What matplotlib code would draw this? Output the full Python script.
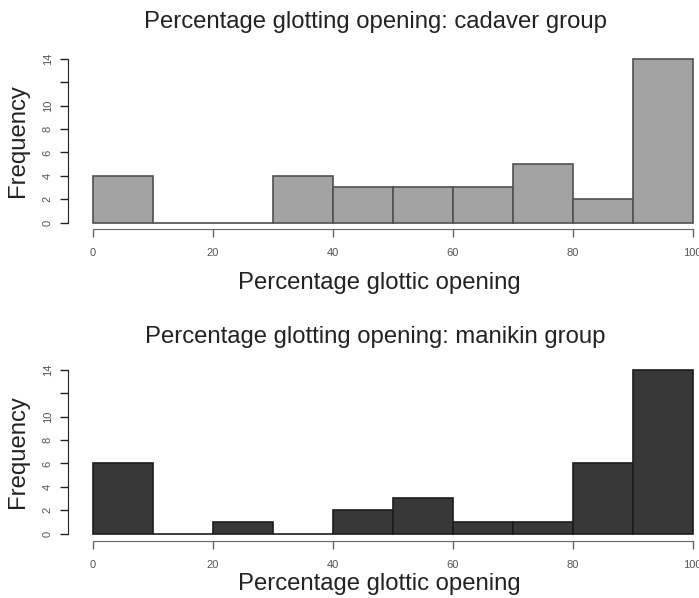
import numpy as np
import matplotlib
matplotlib.use('Agg')
import matplotlib.pyplot as plt

plt.rcParams['font.family'] = ['Liberation Sans', 'DejaVu Sans']

bin_edges = [0, 10, 20, 30, 40, 50, 60, 70, 80, 90, 100]
cadaver_counts = [4, 0, 0, 4, 3, 3, 3, 5, 2, 14]
manikin_counts = [6, 0, 1, 0, 2, 3, 1, 1, 6, 14]
x_ticks = [0, 20, 40, 60, 80, 100]
y_ticks = [0, 2, 4, 6, 8, 10, 12, 14]
y_tick_labels = ['0', '2', '4', '6', '8', '10', '', '14']

W, H = 699, 598
fig = plt.figure(figsize=(W / 100, H / 100), dpi=100)

X0_PX = 92.5     # pixel of x=0
X_SCALE = 6.0    # pixels per unit x
Y_SCALE = 11.68  # pixels per count
TXT = 17.2


def draw_hist(counts, zero_px, top_px, bot_px, spine_px, face, edge, title, title_px, xlabel_px):
    """Histogram panel placed by pixel positions, styled like base R hist()"""
    left_px, right_px = 60, W
    ax = fig.add_axes([left_px / W, 1 - bot_px / H,
                       (right_px - left_px) / W, (bot_px - top_px) / H])
    ax.set_xlim((left_px - X0_PX) / X_SCALE, (right_px - X0_PX) / X_SCALE)
    ax.set_ylim((zero_px - bot_px) / Y_SCALE, (zero_px - top_px) / Y_SCALE)

    lefts = np.array(bin_edges[:-1])
    widths = np.diff(bin_edges)
    ax.bar(lefts, counts, width=widths, align='edge', color=face,
           edgecolor=edge, linewidth=1.2)

    for s in ['top', 'right']:
        ax.spines[s].set_visible(False)
    ax.spines['left'].set_position(('data', (68 - X0_PX) / X_SCALE))
    ax.spines['left'].set_bounds(0, 14)
    ax.spines['left'].set_color('#222222')
    ax.spines['bottom'].set_position(('data', (zero_px - spine_px) / Y_SCALE))
    ax.spines['bottom'].set_bounds(0, 100)
    ax.spines['bottom'].set_color('#666666')

    ax.set_xticks(x_ticks)
    ax.set_xticklabels([str(t) for t in x_ticks])
    ax.set_yticks(y_ticks)
    ax.set_yticklabels(y_tick_labels, rotation=90, va='center')
    ax.tick_params(axis='x', length=6, width=1, color='#666666',
                   labelsize=8, labelcolor='#555555', pad=8)
    ax.tick_params(axis='y', length=6, width=1, color='#222222',
                   labelsize=8, labelcolor='#555555', pad=5)
    ax.patch.set_visible(False)

    fig.text(375.5 / W, 1 - title_px / H, title, ha='center', va='center',
             fontsize=TXT, color='#222222')
    fig.text(379.5 / W, 1 - xlabel_px / H, 'Percentage glottic opening',
             ha='center', va='center', fontsize=TXT, color='#222222')
    fig.text(18 / W, 1 - (zero_px - 7 * Y_SCALE) / H, 'Frequency',
             ha='center', va='center', rotation=90, fontsize=TXT, color='#222222')
    return ax


draw_hist(cadaver_counts, 222.5, 45, 240, 229, '#a3a3a3', '#505050',
          'Percentage glotting opening: cadaver group', 22, 283)
draw_hist(manikin_counts, 533.5, 355, 551, 540.5, '#383838', '#1c1c1c',
          'Percentage glotting opening: manikin group', 337, 584)

fig.savefig('out.png', dpi=100)
